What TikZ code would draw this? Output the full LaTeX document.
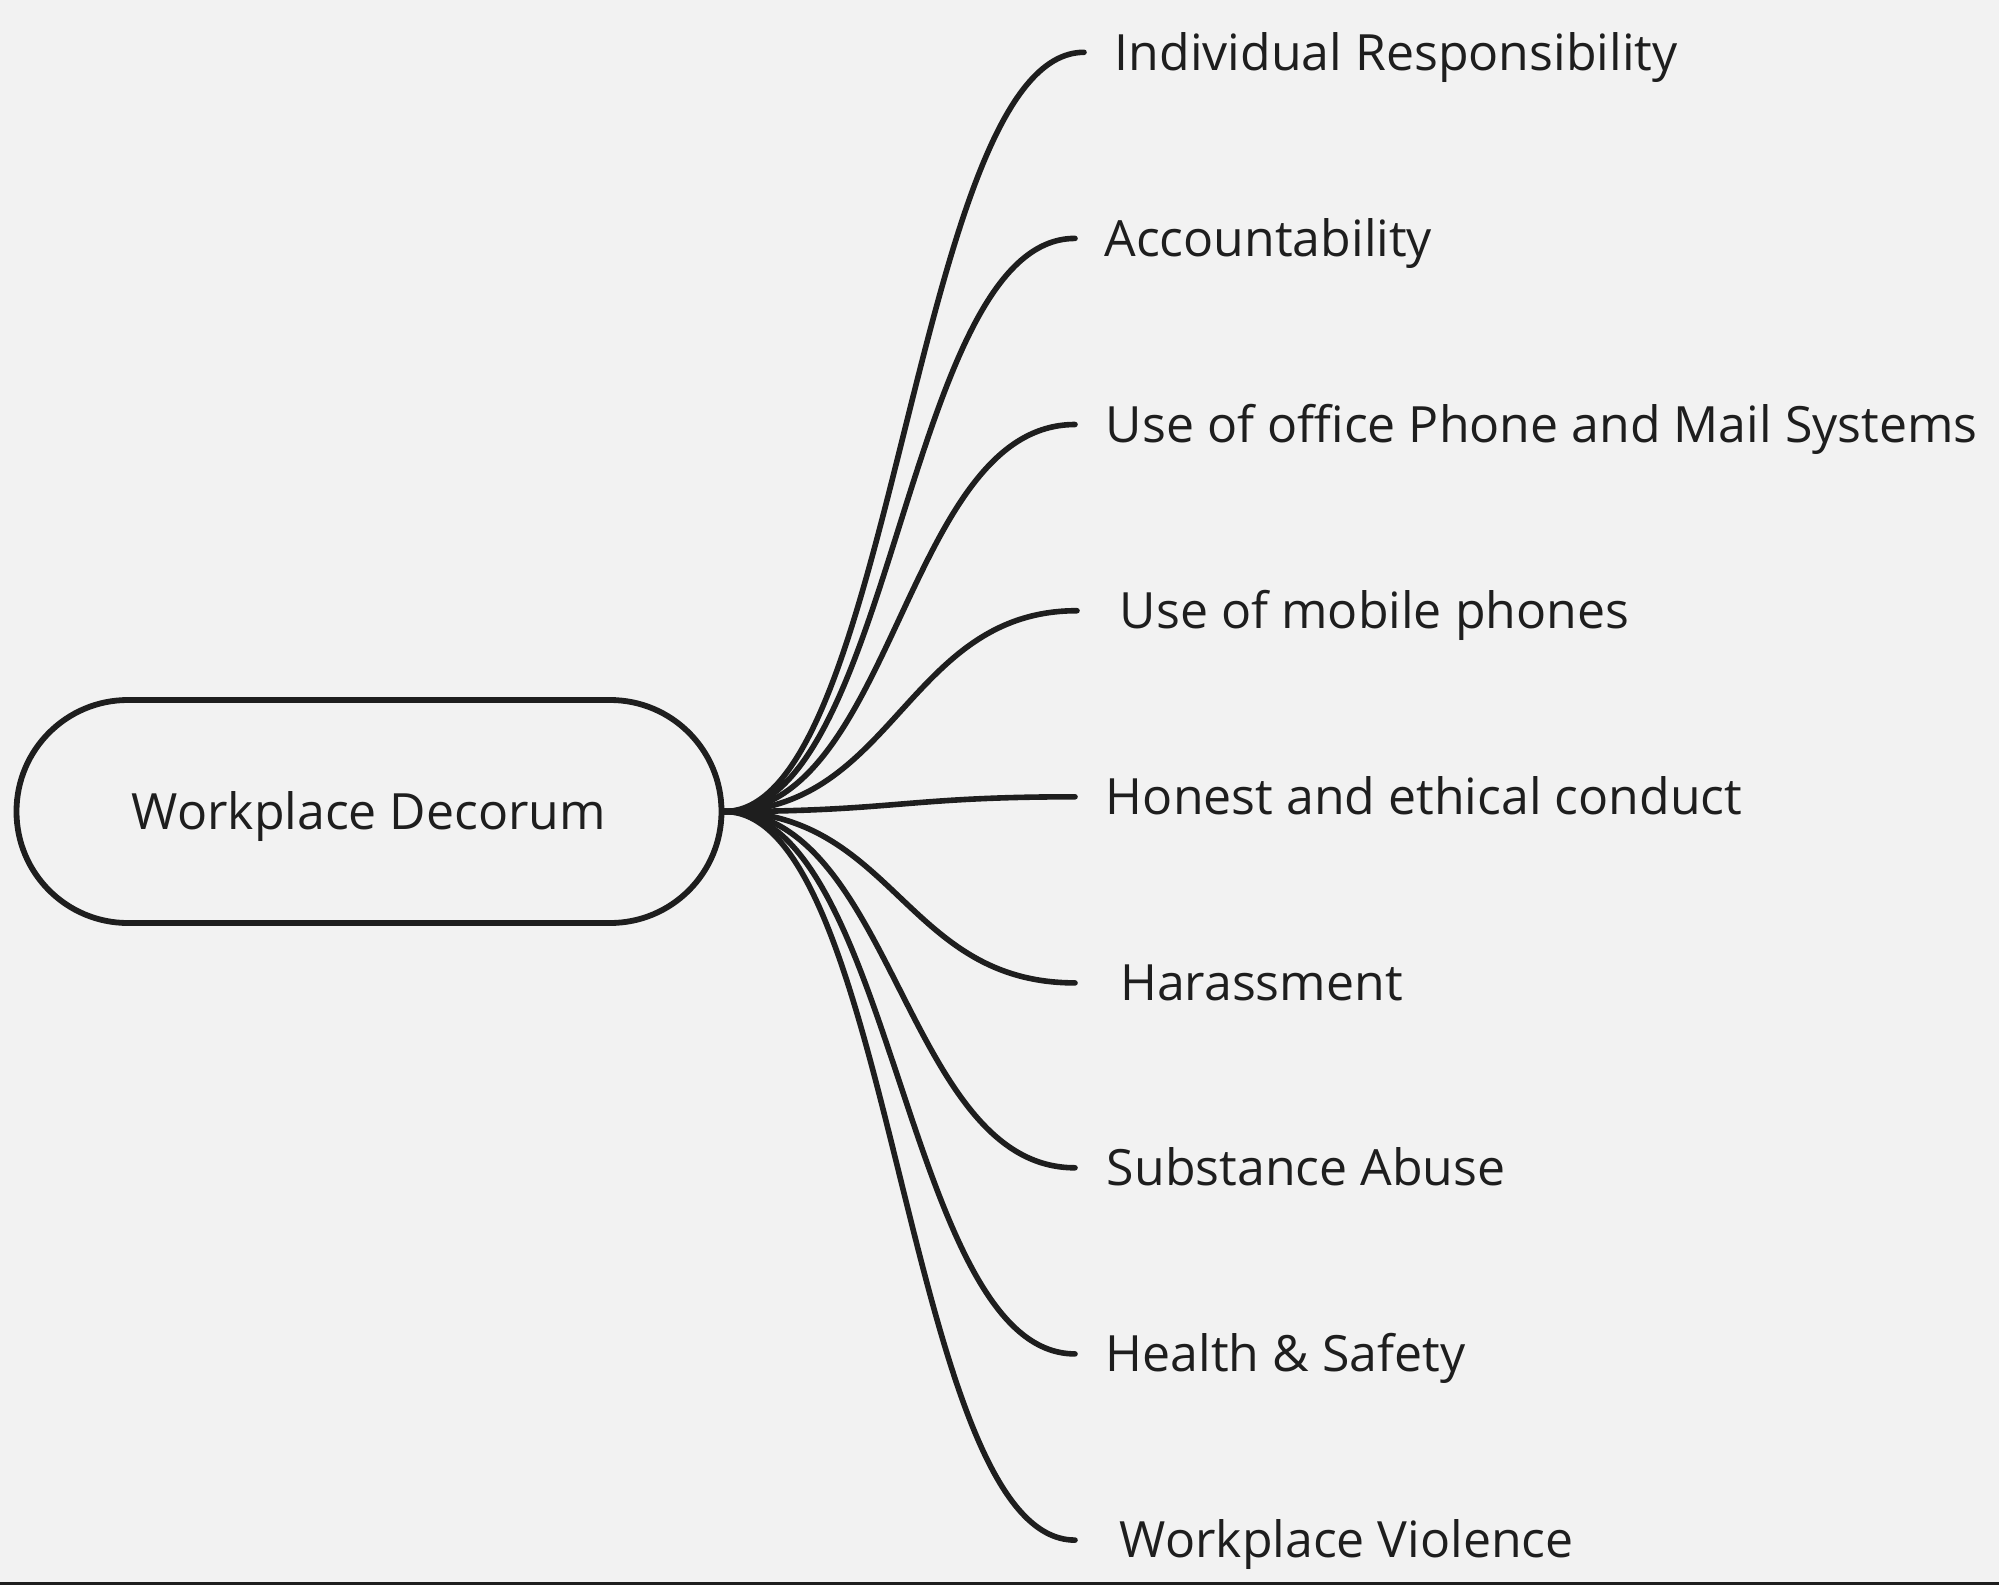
\documentclass[tikz,border=0pt]{standalone}
\usepackage{fontspec}
\setmainfont{Open Sans}
\usetikzlibrary{positioning}
\definecolor{inkgray}{RGB}{30,30,30}
\definecolor{paper}{RGB}{242,242,242}

\begin{document}
\begin{tikzpicture}[x=0.5pt, y=-0.5pt,
    every node/.style={font=\fontsize{25}{30}\selectfont, text=inkgray},
    topic/.style={draw=inkgray, line width=2.9pt, rounded corners=55.7pt,
      minimum width=352.5pt, minimum height=111.5pt, inner sep=0pt,
      text height=17.85pt, text depth=0pt},
    leaf/.style={anchor=west, inner ysep=0pt, text height=17.85pt, text depth=0pt},
    branch/.style={draw=inkgray, line width=2.8pt, line cap=round}]
  \fill[paper] (0,0) rectangle (1999,1585);
  \useasboundingbox (0,0) rectangle (1999,1585);
  \fill[inkgray] (0,1582) rectangle (1999,1585);
  % central topic
  \node[topic] (root) at (369,811.5) {Workplace Decorum};
  % subtopics
  \foreach \n/\x/\y/\g/\txt in {
      1/1084/52.3/15.25/Individual Responsibility,
      2/1075/238.4/14.5/Accountability,
      3/1075/424.5/15.25/Use of office Phone and Mail Systems,
      4/1077/610.7/21.25/Use of mobile phones,
      5/1075/796.8/15.25/Honest and ethical conduct,
      6/1075/982.9/22.4/Harassment,
      7/1075/1167.8/15.75/Substance Abuse,
      8/1075/1353.9/15.25/Health \& Safety,
      9/1075/1540.1/22.25/Workplace Violence}
    \node[leaf, inner xsep=\g pt] (l\n) at (\x,\y) {\txt};
  \foreach \n in {1,...,9}
    \draw[branch] (root.east) .. controls +(170,0) and +(-170,0) .. (l\n.west);
\end{tikzpicture}
\end{document}
